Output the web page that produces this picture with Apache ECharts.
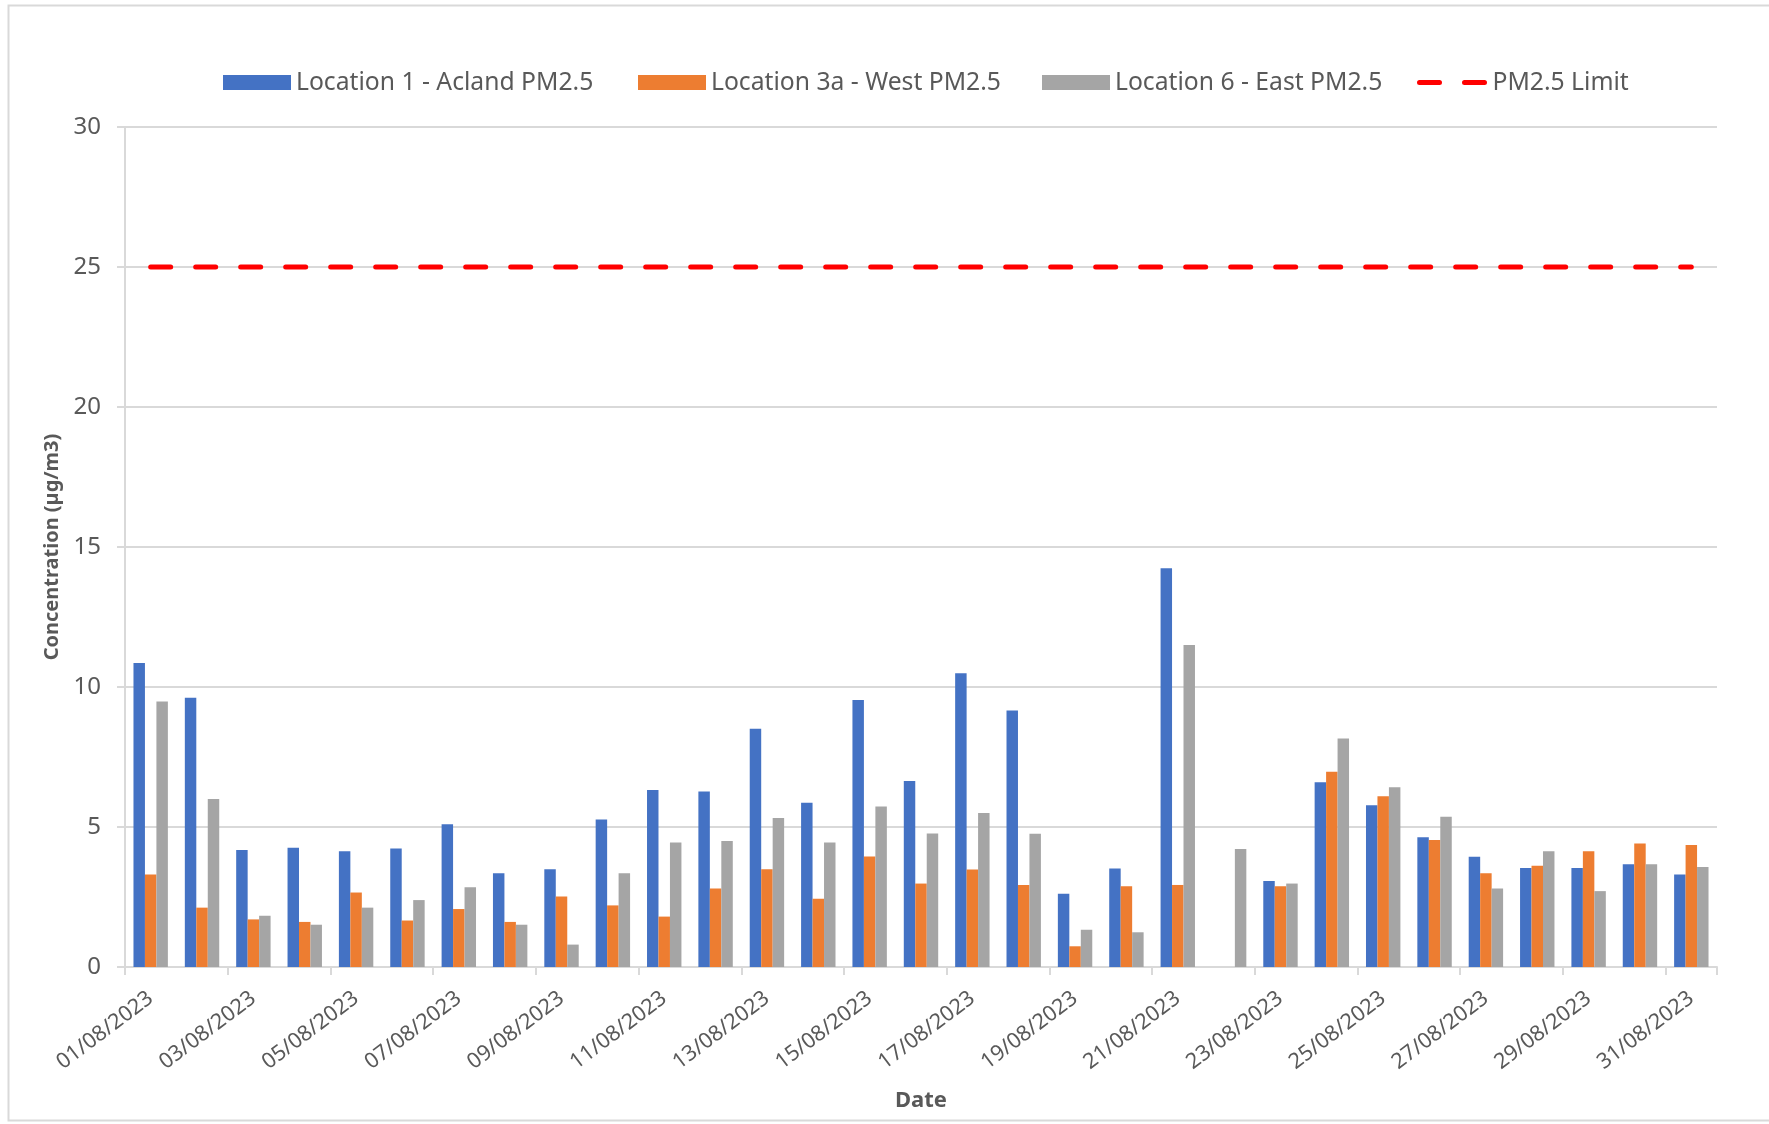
<!DOCTYPE html>
<html>
<head>
<meta charset="utf-8">
<title>PM2.5 concentrations – August 2023</title>
<script src="https://cdn.jsdelivr.net/npm/echarts@6/dist/echarts.min.js"></script>
<style>
  html, body { margin: 0; padding: 0; background: #ffffff; }
  #chart { width: 1769px; height: 1124px; }
</style>
</head>
<body>
<div id="chart"></div>
<script>
// Daily dates, August 2023
const dates = [
  '01/08/2023','02/08/2023','03/08/2023','04/08/2023','05/08/2023','06/08/2023','07/08/2023','08/08/2023',
  '09/08/2023','10/08/2023','11/08/2023','12/08/2023','13/08/2023','14/08/2023','15/08/2023','16/08/2023',
  '17/08/2023','18/08/2023','19/08/2023','20/08/2023','21/08/2023','22/08/2023','23/08/2023','24/08/2023',
  '25/08/2023','26/08/2023','27/08/2023','28/08/2023','29/08/2023','30/08/2023','31/08/2023'
];

// Daily mean PM2.5 (µg/m3) per monitoring location; null = no data that day
const aclandPM25 = [
  10.86, 9.62, 4.18, 4.26, 4.13, 4.23, 5.10, 3.35, 3.49, 5.27, 6.32, 6.27, 8.51, 5.87, 9.54, 6.64,
  10.49, 9.16, 2.62, 3.52, 14.24, null, 3.07, 6.60, 5.78, 4.63, 3.94, 3.54, 3.54, 3.67, 3.30
];
const westPM25 = [
  3.30, 2.12, 1.70, 1.61, 2.66, 1.66, 2.07, 1.61, 2.52, 2.20, 1.80, 2.80, 3.49, 2.44, 3.95, 2.98,
  3.48, 2.93, 0.74, 2.88, 2.93, null, 2.88, 6.97, 6.10, 4.54, 3.35, 3.62, 4.13, 4.41, 4.36
];
const eastPM25 = [
  9.48, 6.00, 1.83, 1.51, 2.12, 2.39, 2.85, 1.51, 0.80, 3.35, 4.45, 4.50, 5.32, 4.45, 5.73, 4.77,
  5.50, 4.76, 1.33, 1.24, 11.50, 4.21, 2.98, 8.16, 6.42, 5.37, 2.80, 4.13, 2.71, 3.67, 3.57
];
// Annual mean PM2.5 limit value (µg/m3)
const pm25Limit = [
  25, 25, 25, 25, 25, 25, 25, 25, 25, 25, 25, 25, 25, 25, 25, 25,
  25, 25, 25, 25, 25, 25, 25, 25, 25, 25, 25, 25, 25, 25, 25
];

const seriesNames = ['Location 1 - Acland PM2.5', 'Location 3a - West PM2.5', 'Location 6 - East PM2.5', 'PM2.5 Limit'];
const yTicks = { min: 0, max: 30, step: 5 };

const FONT = '"Noto Sans", "Open Sans", sans-serif';
const TEXT = '#595959';
const GRID = '#d9d9d9';
const LIMIT_LINE = { color: '#FF0000', width: 5, type: [20, 25], cap: 'round' };

// One legend per entry so each key sits at its own horizontal offset
const legendSlots = [
  { left: 218, item: { name: seriesNames[0], icon: 'rect' } },
  { left: 633, item: { name: seriesNames[1], icon: 'rect' } },
  { left: 1037, item: { name: seriesNames[2], icon: 'rect' } },
  { left: 1412, item: { name: seriesNames[3], itemStyle: { opacity: 0 }, lineStyle: LIMIT_LINE } }
];

const chart = echarts.init(document.getElementById('chart'), null, { renderer: 'canvas' });

chart.setOption({
  animation: false,
  backgroundColor: '#ffffff',
  textStyle: { fontFamily: FONT, color: TEXT },
  graphic: [{
    type: 'rect',
    shape: { x: 8.5, y: 5.5, width: 1780, height: 1115 },
    style: { fill: 'none', stroke: GRID, lineWidth: 2 },
    silent: true, z: -10
  }],
  legend: legendSlots.map(slot => ({
    left: slot.left,
    top: 65,
    itemWidth: 68,
    itemHeight: 15,
    textStyle: { fontFamily: FONT, fontSize: 24.7, color: TEXT },
    data: [slot.item]
  })),
  grid: { left: 125, right: 52, top: 127, bottom: 157, containLabel: false },
  xAxis: {
    type: 'category',
    data: dates,
    boundaryGap: true,
    name: 'Date',
    nameLocation: 'middle',
    nameGap: 123,
    nameTextStyle: { fontFamily: FONT, fontSize: 22, fontWeight: 'bold', color: TEXT },
    axisLine: { lineStyle: { color: GRID, width: 2 } },
    axisTick: { show: true, interval: 1, length: 8, lineStyle: { color: GRID, width: 2 } },
    axisLabel: { interval: 1, rotate: 37, margin: 29, fontSize: 21.5, color: TEXT, fontFamily: FONT }
  },
  yAxis: {
    type: 'value',
    min: yTicks.min,
    max: yTicks.max,
    interval: yTicks.step,
    name: 'Concentration (µg/m3)',
    nameLocation: 'middle',
    nameGap: 63,
    nameTextStyle: { fontFamily: FONT, fontSize: 20, fontWeight: 'bold', color: TEXT },
    axisLine: { show: true, lineStyle: { color: GRID, width: 2 } },
    axisTick: { show: true, length: 8, lineStyle: { color: GRID, width: 2 } },
    axisLabel: { margin: 24, fontSize: 24, color: TEXT, fontFamily: FONT },
    splitLine: { lineStyle: { color: GRID, width: 2 } }
  },
  series: [
    {
      name: seriesNames[0], type: 'bar', data: aclandPM25,
      barGap: '0%', barCategoryGap: '33%',
      itemStyle: { color: '#4472C4' }
    },
    {
      name: seriesNames[1], type: 'bar', data: westPM25,
      barGap: '0%', barCategoryGap: '33%',
      itemStyle: { color: '#ED7D31' }
    },
    {
      name: seriesNames[2], type: 'bar', data: eastPM25,
      barGap: '0%', barCategoryGap: '33%',
      itemStyle: { color: '#A5A5A5' }
    },
    {
      name: seriesNames[3], type: 'line', data: pm25Limit,
      symbol: 'none', z: 5,
      itemStyle: { color: '#FF0000' },
      lineStyle: LIMIT_LINE
    }
  ]
});
</script>
</body>
</html>
